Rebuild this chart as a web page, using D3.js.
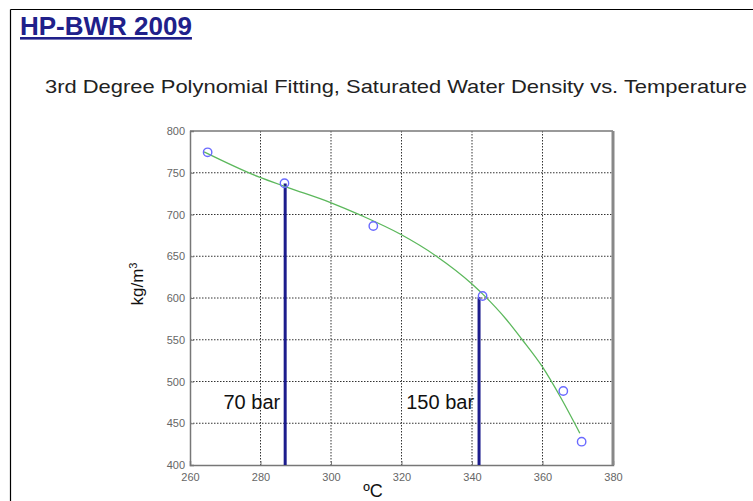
<!DOCTYPE html>
<html>
<head>
<meta charset="utf-8">
<script src="https://cdn.jsdelivr.net/npm/d3@7"></script>
<style>
  body { margin: 0; background: #fff; }
  svg { display: block; }
</style>
</head>
<body>
<div id="vis"></div>
<script>
// measured saturation points (temperature C, density kg/m3)
var tempPts = [265, 286.8, 312, 343, 365.9, 371.1];
var densPts = [774.5, 737.4, 686.2, 602.4, 488.6, 427.9];

// fitted curve
var fitTemp = [264, 279.5, 288, 299.7, 308.7, 319.6, 330, 340, 343.2, 349.8, 354.1, 359.9, 365, 370.6];
var fitDens = [775, 745, 732, 714.6, 698.6, 676.6, 649.8, 616.8, 604, 574, 550.9, 518, 482, 438];

// pressure markers
var barLabels = ["70 bar", "150 bar"];
var barTemp = [287, 342];
var barDens = [737, 601];

var xTicks = [260, 280, 300, 320, 340, 360, 380];
var yTicks = [400, 450, 500, 550, 600, 650, 700, 750, 800];

var W = 753, H = 501;
var plot = {left: 190, right: 613, top: 131, bottom: 465};
var font = "Liberation Sans, Arial, sans-serif";

var svg = d3.select("#vis").append("svg")
  .attr("width", W)
  .attr("height", H);

// page frame
svg.append("line").attr("x1", 10.5).attr("x2", W).attr("y1", 9.5).attr("y2", 9.5)
  .attr("stroke", "#000").attr("stroke-width", 1.2);
svg.append("line").attr("x1", 10.5).attr("x2", 10.5).attr("y1", 9.5).attr("y2", H)
  .attr("stroke", "#000").attr("stroke-width", 1.2);

// heading
svg.append("text")
  .attr("x", 20).attr("y", 35)
  .style("font-family", font)
  .style("font-size", "26px")
  .style("font-weight", "bold")
  .style("text-decoration", "underline")
  .attr("fill", "#20208a")
  .text("HP-BWR 2009");

svg.append("text")
  .attr("x", 45).attr("y", 93)
  .attr("textLength", 702)
  .attr("lengthAdjust", "spacingAndGlyphs")
  .style("font-family", font)
  .style("font-size", "19px")
  .attr("fill", "#222")
  .text("3rd Degree Polynomial Fitting, Saturated Water Density vs. Temperature");

var x = d3.scaleLinear().domain([260, 380]).range([plot.left, plot.right]);
var y = d3.scaleLinear().domain([400, 800]).range([plot.bottom, plot.top]);

var g = svg.append("g");

// grid
g.selectAll(".vgrid").data(xTicks.slice(1, -1)).enter().append("line")
  .attr("x1", d => x(d)).attr("x2", d => x(d))
  .attr("y1", plot.top).attr("y2", plot.bottom)
  .attr("stroke", "#333").attr("stroke-width", 1)
  .attr("stroke-dasharray", "1.5,1.5");
g.selectAll(".hgrid").data(yTicks.slice(1, -1)).enter().append("line")
  .attr("y1", d => y(d)).attr("y2", d => y(d))
  .attr("x1", plot.left).attr("x2", plot.right)
  .attr("stroke", "#333").attr("stroke-width", 1)
  .attr("stroke-dasharray", "1.5,1.5");

// axes
var xAxis = g.append("g")
  .attr("transform", `translate(0,${plot.bottom})`)
  .call(d3.axisBottom(x).tickValues(xTicks).tickSize(-4).tickPadding(8).tickFormat(d3.format("d")));
var yAxis = g.append("g")
  .attr("transform", `translate(${plot.left},0)`)
  .call(d3.axisLeft(y).tickValues(yTicks).tickSize(-4).tickPadding(5).tickFormat(d3.format("d")));
[xAxis, yAxis].forEach(function(a) {
  a.select(".domain").attr("stroke", "#777").attr("stroke-width", 1.5);
  a.selectAll(".tick line").attr("stroke", "#777");
  a.selectAll("text")
    .style("font-family", font)
    .style("font-size", "11px")
    .attr("fill", "#666");
});

// top and right frame of the plot
g.append("line").attr("x1", plot.left).attr("x2", plot.right)
  .attr("y1", plot.top).attr("y2", plot.top)
  .attr("stroke", "#777").attr("stroke-width", 1.5);
g.append("line").attr("x1", plot.right).attr("x2", plot.right)
  .attr("y1", plot.top).attr("y2", plot.bottom)
  .attr("stroke", "#888").attr("stroke-width", 3);

// pressure bars
barTemp.forEach(function(t, i) {
  g.append("line")
    .attr("x1", x(t)).attr("x2", x(t))
    .attr("y1", y(400)).attr("y2", y(barDens[i]))
    .attr("stroke", "#1c1c8c").attr("stroke-width", 3);
  g.append("text")
    .attr("x", x(t) - 5).attr("y", 409)
    .attr("text-anchor", "end")
    .style("font-family", font)
    .style("font-size", "20px")
    .attr("fill", "#111")
    .text(barLabels[i]);
});

// fit curve
var fit = fitTemp.map((t, i) => [t, fitDens[i]]);
g.append("path")
  .datum(fit)
  .attr("d", d3.line().x(d => x(d[0])).y(d => y(d[1])).curve(d3.curveMonotoneX))
  .attr("fill", "none")
  .attr("stroke", "#5cb85c")
  .attr("stroke-width", 1.3);

// data points
g.selectAll(".pt").data(tempPts).enter().append("circle")
  .attr("cx", d => x(d))
  .attr("cy", (d, i) => y(densPts[i]))
  .attr("r", 4.2)
  .attr("fill", "none")
  .attr("stroke", "#6a6aff")
  .attr("stroke-width", 1.4);

// axis titles
svg.append("text")
  .attr("transform", "translate(143,284) rotate(-90)")
  .attr("text-anchor", "middle")
  .style("font-family", font)
  .style("font-size", "17px")
  .attr("fill", "#111")
  .html("kg/m<tspan dy='-6' font-size='11px'>3</tspan>");

svg.append("text")
  .attr("x", 373).attr("y", 497)
  .attr("text-anchor", "middle")
  .style("font-family", font)
  .style("font-size", "18px")
  .attr("fill", "#111")
  .text("ºC");
</script>
</body>
</html>
